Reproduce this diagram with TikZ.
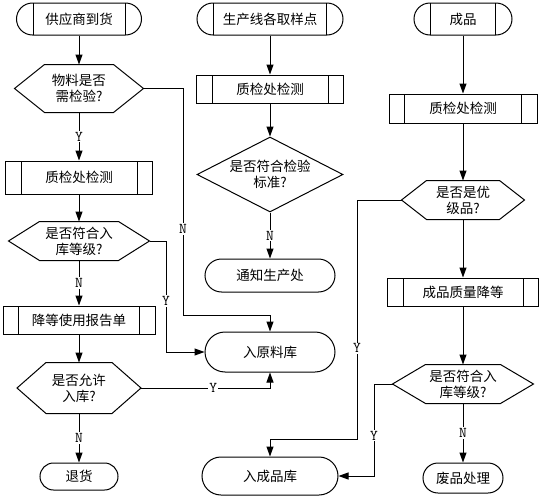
\documentclass[tikz,border=0pt]{standalone}
\usepackage{fontspec}
\newfontfamily\cjk{Noto Sans CJK SC}
\usepackage{tikz}
\usetikzlibrary{shapes.geometric, shapes.misc, arrows.meta, positioning}

\begin{document}
\begin{tikzpicture}[
  x=1pt, y=-1pt,
  base/.style={draw, line width=1pt, inner sep=0pt, align=center, font=\cjk\fontsize{13.5}{16}\selectfont},
  startbox/.style={base, rounded rectangle, minimum height=32pt, path picture={
      \draw[line width=1pt] ([xshift=16.5pt]path picture bounding box.north west) -- ([xshift=16.5pt]path picture bounding box.south west);
      \draw[line width=1pt] ([xshift=-16.5pt]path picture bounding box.north east) -- ([xshift=-16.5pt]path picture bounding box.south east);}},
  endbox/.style={base, rounded rectangle},
  procbox/.style={base, rectangle, minimum height=28pt, path picture={
      \draw[line width=1pt] ([xshift=15.5pt]path picture bounding box.north west) -- ([xshift=15.5pt]path picture bounding box.south west);
      \draw[line width=1pt] ([xshift=-15.5pt]path picture bounding box.north east) -- ([xshift=-15.5pt]path picture bounding box.south east);}},
  decbox/.style={base, draw=none, rectangle},
  diabox/.style={base, diamond, aspect=1.95, inner sep=-1pt},
  arr/.style={line width=1pt, -{Triangle[length=10pt, width=7pt]}},
  yn/.style={font=\ttfamily\fontsize{15}{15}\selectfont, fill=white, inner sep=1pt}
]
  \useasboundingbox (0,0) rectangle (542,498);

  % supplier column
  \node[startbox, minimum width=125pt] (supply) at (79,19) {供应商到货};
  \node[decbox, minimum width=128pt, minimum height=47pt] (chk1) at (79,88.5) {物料是否\\需检验?};
  \node[procbox, minimum width=147pt, minimum height=33pt] (qc1) at (79,177.5) {质检处检测};
  \node[decbox, minimum width=140pt, minimum height=38pt] (grade1) at (79,241) {是否符合入\\库等级?};
  \node[procbox, minimum width=152pt] (report) at (79,320) {降等使用报告单};
  \node[decbox, minimum width=123pt, minimum height=50pt] (allow) at (79,388) {是否允许\\入库?};
  \node[endbox, minimum width=78pt, minimum height=27pt] (ret) at (79,476.5) {退货};

  % production line column
  \node[startbox, minimum width=146pt] (line) at (270,19) {生产线各取样点};
  \node[procbox, minimum width=147pt] (qc2) at (270,89) {质检处检测};
  \node[diabox, minimum width=146pt, minimum height=75pt] (std) at (270,174.5) {是否符合检验\\标准?};
  \node[endbox, minimum width=130pt, minimum height=33pt] (notify) at (270,275.5) {通知生产处};
  \node[endbox, minimum width=130pt, minimum height=40pt] (rawin) at (270,352) {入原料库};
  \node[endbox, minimum width=136pt, minimum height=38pt] (finin) at (270,476) {入成品库};

  % product column
  \node[startbox, minimum width=98pt] (prod) at (463,19) {成品};
  \node[procbox, minimum width=148pt, minimum height=29pt] (qc3) at (463,108.5) {质检处检测};
  \node[decbox, minimum width=122pt, minimum height=38pt] (best) at (463,200) {是否是优\\级品?};
  \node[procbox, minimum width=151pt] (down) at (463,292) {成品质量降等};
  \node[decbox, minimum width=140pt, minimum height=38pt] (grade2) at (463,384) {是否符合入\\库等级?};
  \node[endbox, minimum width=80pt, minimum height=30pt] (scrap) at (463,478) {废品处理};

  % hexagon outlines of the decisions
  \foreach \d/\s in {chk1/30, grade1/31, allow/29, best/25, grade2/33}
    \draw[line width=1pt] (\d.west) -- ([xshift=\s pt]\d.north west) -- ([xshift=-\s pt]\d.north east)
      -- (\d.east) -- ([xshift=-\s pt]\d.south east) -- ([xshift=\s pt]\d.south west) -- cycle;

  \coordinate (nturn) at (183,315);
  \coordinate (yturn1) at (166,352);
  \coordinate (yturn2) at (357,439);
  \coordinate (yturn3) at (374,476);

  \draw[arr] (supply.south) -- (chk1.north);
  \draw[arr] (chk1.south) -- node[yn] {Y} (qc1.north);
  \draw[arr] (qc1.south) -- (grade1.north);
  \draw[arr] (grade1.south) -- node[yn] {N} (report.north);
  \draw[arr] (report.south) -- (allow.north);
  \draw[arr] (allow.south) -- node[yn] {N} (ret.north);
  \draw[arr] (chk1.east) -| node[yn, pos=0.81] {N} (nturn) -| (rawin.north);
  \draw[arr] (grade1.east) -| node[yn, pos=0.77] {Y} (yturn1) -- (rawin.west);
  \draw[arr] (allow.east) -| node[yn, pos=0.28] {Y} (rawin.south);

  \draw[arr] (line.south) -- (qc2.north);
  \draw[arr] (qc2.south) -- (std.north);
  \draw[arr] (std.south) -- node[yn] {N} (notify.north);

  \draw[arr] (prod.south) -- (qc3.north);
  \draw[arr] (qc3.south) -- (best.north);
  \draw[arr] (best.south) -- (down.north);
  \draw[arr] (down.south) -- (grade2.north);
  \draw[arr] (grade2.south) -- node[yn] {N} (scrap.north);
  \draw[arr] (best.west) -| node[yn, pos=0.81] {Y} (yturn2) -| (finin.north);
  \draw[arr] (grade2.west) -| node[yn, pos=0.78] {Y} (yturn3) -- (finin.east);
\end{tikzpicture}
\end{document}
